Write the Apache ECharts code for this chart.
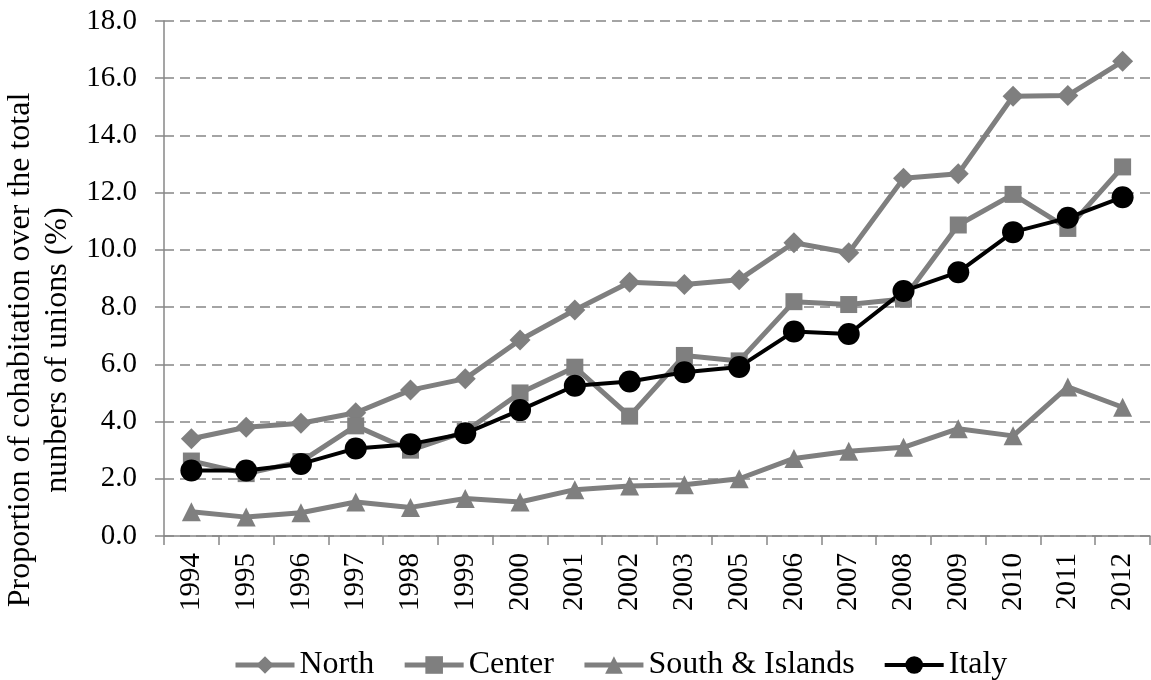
<!DOCTYPE html>
<html>
<head>
<meta charset="utf-8">
<script src="https://cdn.jsdelivr.net/npm/echarts@6/dist/echarts.min.js"></script>
<style>
html,body{margin:0;padding:0;background:#fff;}
#chart{width:1151px;height:680px;}
</style>
</head>
<body>
<div id="chart"></div>
<script>
var years = ['1994','1995','1996','1997','1998','1999','2000','2001','2002','2003','2005','2006','2007','2008','2009','2010','2011','2012'];
var north = [3.40, 3.80, 3.94, 4.31, 5.10, 5.50, 6.85, 7.90, 8.87, 8.79, 8.96, 10.25, 9.90, 12.50, 12.66, 15.37, 15.40, 16.59];
var center = [2.62, 2.18, 2.60, 3.85, 3.00, 3.65, 5.00, 5.90, 4.19, 6.31, 6.12, 8.19, 8.09, 8.28, 10.87, 11.94, 10.75, 12.90];
var south = [0.85, 0.66, 0.81, 1.19, 1.00, 1.31, 1.19, 1.62, 1.75, 1.79, 2.00, 2.71, 2.96, 3.10, 3.75, 3.50, 5.21, 4.50];
var italy = [2.29, 2.29, 2.52, 3.06, 3.21, 3.59, 4.40, 5.25, 5.40, 5.72, 5.91, 7.15, 7.06, 8.56, 9.22, 10.62, 11.12, 11.84];
var yTicks = {min: 0, max: 18, interval: 2};
var seriesNames = ['North', 'Center', 'South & Islands', 'Italy'];
var yTitle = 'Proportion of cohabitation over the total\nnunbers of unions (%)';

var FONT = '"Liberation Serif", "Times New Roman", serif';
var GRAY = '#7f7f7f';
var AXIS = '#878787';

var chart = echarts.init(document.getElementById('chart'), null, {renderer: 'canvas'});

function mk(name, data, symbol, size, color, width) {
  return {
    name: name, type: 'line', data: data,
    symbol: symbol, symbolSize: size,
    lineStyle: {color: color, width: width},
    itemStyle: {color: color},
    animation: false
  };
}

function legendItem(name, color, width) {
  return {name: name, itemStyle: {color: color}, lineStyle: {color: color, width: width}};
}

chart.setOption({
  backgroundColor: '#fff',
  animation: false,
  grid: {left: 164, right: 1, top: 21, bottom: 144, containLabel: false},
  legend: {
    left: 228, top: 644,
    itemWidth: 59, itemHeight: 22, itemGap: 28,
    lineStyle: {width: 5},
    textStyle: {fontFamily: FONT, fontSize: 32, color: '#000'},
    data: [
      legendItem(seriesNames[0], GRAY, 5),
      legendItem(seriesNames[1], GRAY, 5),
      legendItem(seriesNames[2], GRAY, 5),
      legendItem(seriesNames[3], '#000', 4)
    ]
  },
  graphic: [{
    type: 'text',
    x: 39, y: 350,
    rotation: Math.PI / 2,
    style: {
      text: yTitle,
      font: '32px ' + FONT,
      fill: '#000',
      align: 'center',
      verticalAlign: 'middle',
      lineHeight: 37
    }
  }],
  xAxis: {
    type: 'category',
    data: years,
    boundaryGap: true,
    axisLine: {lineStyle: {color: AXIS, width: 1.5}},
    axisTick: {show: true, length: 9, alignWithLabel: false, lineStyle: {color: AXIS, width: 1.5}},
    axisLabel: {rotate: 90, margin: 17, fontFamily: FONT, fontSize: 29, color: '#000', interval: 0},
    splitLine: {show: false}
  },
  yAxis: {
    type: 'value',
    min: yTicks.min, max: yTicks.max, interval: yTicks.interval,
    axisLine: {show: true, lineStyle: {color: AXIS, width: 1.5}},
    axisTick: {show: true, length: 9, lineStyle: {color: AXIS, width: 1.5}},
    axisLabel: {margin: 27, fontFamily: FONT, fontSize: 29, color: '#000',
      formatter: function (v) { return v.toFixed(1); }},
    splitLine: {show: true, lineStyle: {color: AXIS, width: 1.5, type: [10, 6]}}
  },
  series: [
    mk(seriesNames[0], north, 'diamond', 21, GRAY, 5),
    mk(seriesNames[1], center, 'rect', 17, GRAY, 5),
    mk(seriesNames[2], south, 'triangle', 19, GRAY, 5),
    mk(seriesNames[3], italy, 'circle', 22, '#000', 4)
  ]
});
</script>
</body>
</html>
